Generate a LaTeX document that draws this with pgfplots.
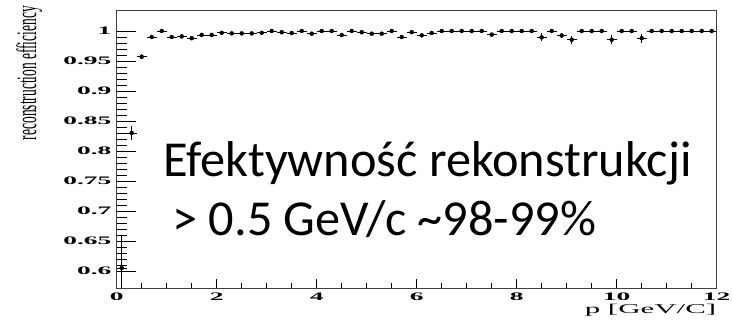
\documentclass[border=0pt]{standalone}
\usepackage{pgfplots}
\pgfplotsset{compat=1.18}
\usepackage{pgfplotstable}
\usepackage{fontspec}
\setmainfont{Liberation Serif}
\newfontfamily\calibri{Carlito}

% reconstruction efficiency per 0.2 GeV/c bin: centre, value, upper and lower error
\pgfplotstableread{
x     y       ep      em
0.1   0.605   0.055   0.055
0.3   0.830   0.011   0.011
0.5   0.957   0.0045  0.0045
0.7   0.990   0.0015  0.0015
0.9   1.000   0.0     0.0012
1.1   0.990   0.0012  0.0012
1.3   0.991   0.0012  0.0012
1.5   0.988   0.0012  0.0012
1.7   0.9935  0.001   0.001
1.9   0.9935  0.001   0.001
2.1   0.997   0.001   0.001
2.3   0.996   0.001   0.001
2.5   0.996   0.001   0.001
2.7   0.996   0.001   0.001
2.9   0.997   0.001   0.001
3.1   1.000   0.0     0.0012
3.3   0.998   0.001   0.001
3.5   0.9967  0.001   0.001
3.7   1.000   0.0     0.0012
3.9   0.9955  0.001   0.001
4.1   1.000   0.0     0.0012
4.3   1.000   0.0     0.0012
4.5   0.9933  0.0012  0.0012
4.7   1.000   0.0     0.0012
4.9   0.998   0.001   0.001
5.1   0.9955  0.001   0.001
5.3   0.9955  0.001   0.001
5.5   1.000   0.0     0.0012
5.7   0.990   0.0015  0.0015
5.9   0.998   0.001   0.001
6.1   0.9928  0.0015  0.0015
6.3   0.9967  0.001   0.001
6.5   1.000   0.0     0.0012
6.7   1.000   0.0     0.0012
6.9   1.000   0.0     0.0012
7.1   1.000   0.0     0.0012
7.3   1.000   0.0     0.0012
7.5   0.994   0.002   0.002
7.7   1.000   0.0     0.0012
7.9   1.000   0.0     0.0012
8.1   1.000   0.0     0.0012
8.3   1.000   0.0     0.0012
8.5   0.9894  0.0065  0.0065
8.7   1.000   0.0     0.0012
8.9   0.9925  0.004   0.004
9.1   0.9855  0.0065  0.0065
9.3   1.000   0.0     0.0012
9.5   1.000   0.0     0.0012
9.7   1.000   0.0     0.0012
9.9   0.9855  0.007   0.007
10.1  1.000   0.0     0.0012
10.3  1.000   0.0     0.0012
10.5  0.988   0.0075  0.0075
10.7  1.000   0.0     0.0012
10.9  1.000   0.0     0.0012
11.1  1.000   0.0     0.0012
11.3  1.000   0.0     0.0012
11.5  1.000   0.0     0.0012
11.7  1.000   0.0     0.0012
11.9  1.000   0.0     0.0012
}\effdata

\pgfplotsset{
  frame/.style={
    scale only axis, width=600bp, height=278bp,
    xmin=0, xmax=12, ymin=0.5717, ymax=1.035,
    axis line style={black!75, line width=0.9bp},
    tick pos=left, tick align=inside,
    tick style={black, line width=0.7bp},
    /pgf/number format/assume math mode=true,
  },
}

\begin{document}
\begin{tikzpicture}
% vertical axis, data and annotation
\begin{axis}[
  frame, name=ax,
  xtick=\empty,
  ytick={0.6,0.65,0.7,0.75,0.8,0.85,0.9,0.95,1},
  minor y tick num=4,
  major tick length=19bp, minor tick length=10bp,
  yticklabel style={font=\bfseries\fontsize{11.5}{13}\selectfont, inner xsep=2bp, inner ysep=0pt, xscale=2.4},
  ylabel={reconstruction efficiency},
  ylabel style={at={([xshift=-74bp,yshift=4bp]rel axis cs:0,1)}, anchor=south east,
    inner sep=0pt, font=\fontsize{13.5}{16}\selectfont, yscale=2.1},
  xlabel={p [GeV/C]},
  xlabel style={at={([yshift=-16bp]rel axis cs:1,0)}, anchor=north east,
    inner sep=0pt, font=\fontsize{13.5}{16}\selectfont, xscale=2.3},
]
\addplot[only marks, mark=none,
  error bars/.cd, x dir=both, x fixed=0.1, y dir=both, y explicit,
  error mark=none, error bar style={black, line width=0.7bp}]
  table[x=x, y=y, y error plus=ep, y error minus=em] {\effdata};
\node[anchor=base west, inner sep=0pt, font=\calibri\fontsize{50.5}{60}\selectfont]
  at (axis cs:0.93,0.758) {Efektywność rekonstrukcji};
\node[anchor=base west, inner sep=0pt, font=\calibri\fontsize{50.5}{60}\selectfont]
  at (axis cs:1.11,0.66) {> 0.5 GeV/c \textasciitilde98-99\%};
\end{axis}
% horizontal axis ticks
\begin{axis}[
  frame,
  ytick=\empty,
  xtick={0,2,4,6,8,10,12},
  minor x tick num=3,
  major tick length=9bp, minor tick length=5bp,
  xticklabel style={font=\bfseries\fontsize{11.5}{13}\selectfont, inner xsep=0pt, inner ysep=5bp, xscale=2.4},
]
\end{axis}
\pgfresetboundingbox
\path ([shift={(-116.7bp,-33bp)}]ax.south west) rectangle ++(733bp,321bp);
\end{tikzpicture}
\end{document}
